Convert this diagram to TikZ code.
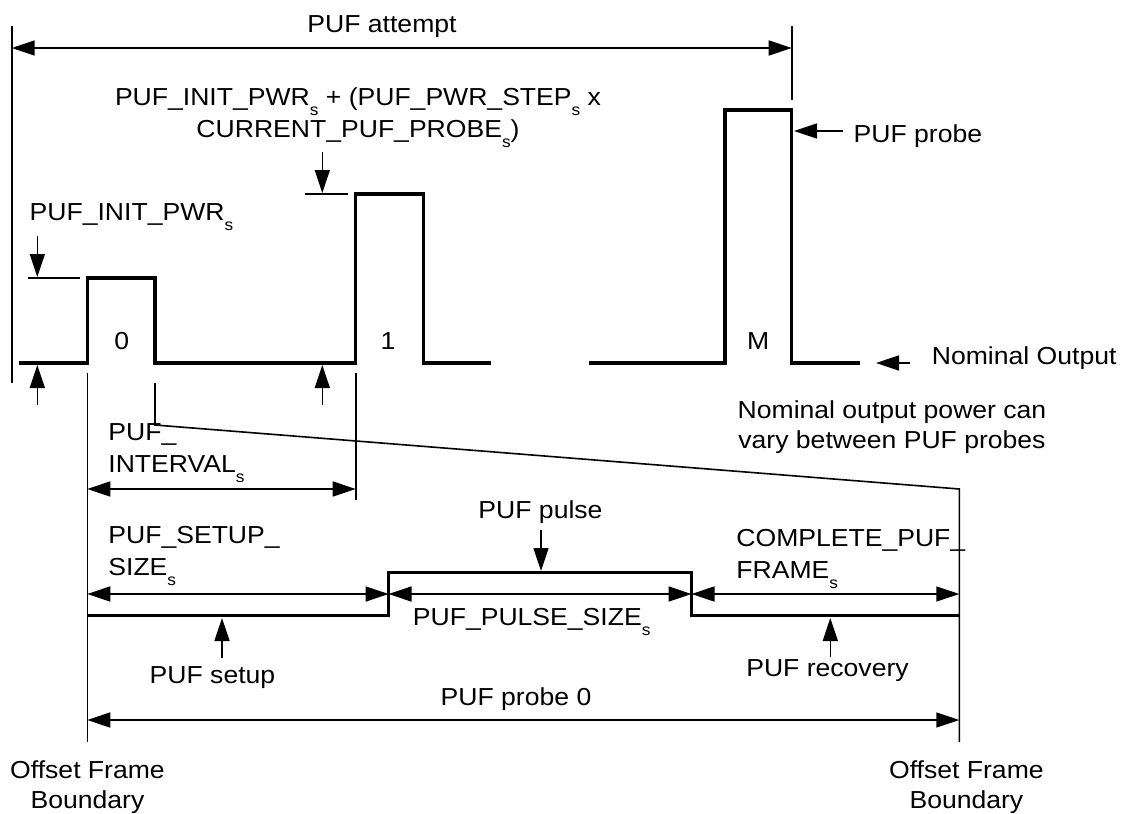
\documentclass[tikz,border=0pt]{standalone}
\usepackage{fontspec}
\setmainfont{Liberation Sans}[FakeStretch=1.08]
\usepackage{tikz}
\usetikzlibrary{arrows.meta,positioning}
\newcommand{\subs}{\raisebox{-5pt}{\fontsize{8}{8}\selectfont s}}

\begin{document}
\begin{tikzpicture}[
  x=0.5pt, y=-0.5pt, inner sep=0pt,
  font=\fontsize{12.3}{16}\selectfont,
  bnd/.style={line width=0.8pt},
  wave/.style={line width=1.6pt},
  ptr/.style={-{Triangle[length=11.5pt, width=7.5pt]}, line width=0.8pt},
  dim/.style={{Triangle[length=11.5pt, width=7.5pt]}-{Triangle[length=11.5pt, width=7.5pt]}, line width=0.8pt},
  lbl/.style={anchor=base west, align=left},
  clbl/.style={anchor=base, align=center}
]
\useasboundingbox (0,0) rectangle (1125,814);

% PUF attempt
\coordinate (attL) at (11.7,48);
\coordinate (attR) at (791.7,48);
\draw[bnd] (11.7,26) -- (11.7,383);
\draw[bnd] (791.7,26) -- (791.7,100);
\draw[dim] (attL) -- (attR);
\node[clbl] (attempt) at (382,32) {PUF attempt};

% probes 0, 1 and M on the nominal output level
\draw[wave] (19,363) -| (87.3,278) -| (155,363) -| (355.7,194) -| (423.3,363) -- (491,363);
\draw[wave] (589.3,363) -| (725,110) -| (791.7,363) -- (860,363);
\node[clbl] (p0) at (121.7,349) {0};
\node[clbl] (p1) at (388,349) {1};
\node[clbl] (pM) at (758.3,349) {M};

% power levels of probe 0 and probe 1
\draw[bnd] (28,278) -- (80,278);
\draw[bnd] (305,194) -- (348,194);
\coordinate (initA) at (37.3,236);   \coordinate (initB) at (37.3,277);
\coordinate (initC) at (37.3,405);   \coordinate (initD) at (37.3,365);
\coordinate (stepA) at (322.3,152);  \coordinate (stepB) at (322.3,193);
\coordinate (stepC) at (322.3,405);  \coordinate (stepD) at (322.3,365);
\draw[ptr] (initA) -- (initB);
\draw[ptr] (initC) -- (initD);
\draw[ptr] (stepA) -- (stepB);
\draw[ptr] (stepC) -- (stepD);
\node[lbl] (initpwr) at (29.3,220) {PUF\_INIT\_PWR\subs};
\node[clbl] (steppwr) at (358,137) {PUF\_INIT\_PWR\subs{} + (PUF\_PWR\_STEP\subs{} x\\CURRENT\_PUF\_PROBE\subs)};

% probe and nominal output pointers
\coordinate (probeA) at (842.7,131); \coordinate (probeB) at (794,131);
\coordinate (nomA) at (910,363);     \coordinate (nomB) at (876,363);
\draw[ptr] (probeA) -- (probeB);
\draw[ptr] (nomA) -- (nomB);
\node[lbl] (probe) at (853.3,142) {PUF probe};
\node[lbl] (nominal) at (931.5,364) {Nominal Output};
\node[clbl, font=\fontsize{12.3}{15}\selectfont] (vary) at (892,448) {Nominal output power can\\vary between PUF probes};

% guide lines down to probe 0 detail
\draw[bnd] (87.3,373) -- (87.3,742);
\draw[bnd] (155,383) -- (155,425) -- (959.3,489) -- (959.3,742);
\draw[bnd] (355.7,373) -- (355.7,500);

% PUF interval
\coordinate (ivA) at (87.3,489); \coordinate (ivB) at (355.7,489);
\draw[dim] (ivA) -- (ivB);
\node[lbl] (interval) at (108,472) {PUF\_\\INTERVAL\subs};

% probe 0 in detail
\draw[wave] (87.3,615.7) -| (388.6,572.7) -| (691.5,615.7) -- (959.3,615.7);
\coordinate (sA) at (87.3,594);  \coordinate (sB) at (388.6,594);
\coordinate (sC) at (691.5,594); \coordinate (sD) at (959.3,594);
\draw[dim] (sA) -- (sB);
\draw[dim] (sB) -- (sC);
\draw[dim] (sC) -- (sD);
\node[lbl] (setupsz) at (108,575) {PUF\_SETUP\_\\SIZE\subs};
\node[lbl] (pulsesz) at (412.5,625) {PUF\_PULSE\_SIZE\subs};
\node[lbl] (framesz) at (736,578) {COMPLETE\_PUF\_\\FRAME\subs};

\coordinate (pulseA) at (541,530);  \coordinate (pulseB) at (541,571);
\coordinate (setupA) at (222,658);  \coordinate (setupB) at (222,618);
\coordinate (recA) at (830.3,657);  \coordinate (recB) at (830.3,618);
\draw[ptr] (pulseA) -- (pulseB);
\draw[ptr] (setupA) -- (setupB);
\draw[ptr] (recA) -- (recB);
\node[clbl] (pulse) at (540.5,518) {PUF pulse};
\node[clbl] (setup) at (212.5,683) {PUF setup};
\node[clbl] (recovery) at (827.5,676) {PUF recovery};

% whole probe 0 between the offset frame boundaries
\coordinate (pbA) at (87.3,720); \coordinate (pbB) at (959.3,720);
\draw[dim] (pbA) -- (pbB);
\node[clbl] (probe0) at (516,705) {PUF probe 0};
\node[clbl, font=\fontsize{12.3}{15}\selectfont] (bndL) at (87.5,808) {Offset Frame\\Boundary};
\node[clbl, font=\fontsize{12.3}{15}\selectfont] (bndR) at (966.4,808) {Offset Frame\\Boundary};
\end{tikzpicture}
\end{document}
